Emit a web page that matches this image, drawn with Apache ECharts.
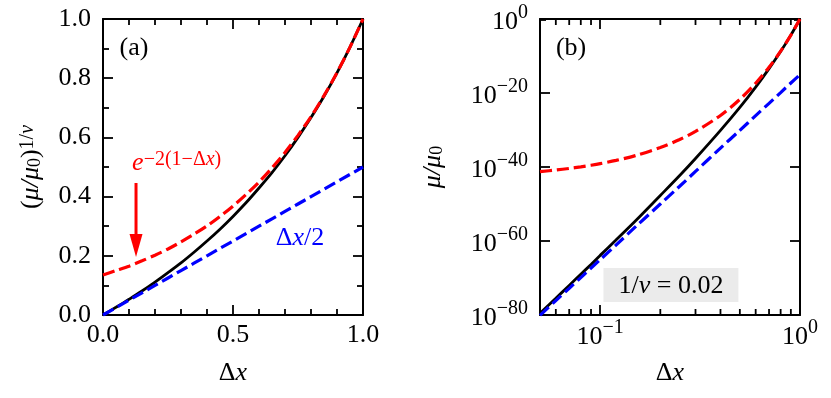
<!DOCTYPE html>
<html>
<head>
<meta charset="utf-8">
<script src="https://cdn.jsdelivr.net/npm/echarts@6/dist/echarts.min.js"></script>
<style>
  html, body { margin: 0; padding: 0; background: #fff; }
  #chart { width: 831px; height: 398px; }
</style>
</head>
<body>
<div id="chart"></div>
<script>
// panel (a), linear axes
const dxLin = [0, 0.05, 0.1, 0.15, 0.2, 0.25, 0.3, 0.35, 0.4, 0.45, 0.5, 0.55, 0.6, 0.65, 0.7, 0.75, 0.8, 0.85, 0.9, 0.95, 1];
const muLin = [0, 0.026, 0.053, 0.081, 0.111, 0.143, 0.176, 0.212, 0.25, 0.29, 0.333, 0.379, 0.429, 0.481, 0.538, 0.6, 0.667, 0.739, 0.818, 0.905, 1];
const expLin = [0.135, 0.15, 0.165, 0.183, 0.202, 0.223, 0.247, 0.273, 0.301, 0.333, 0.368, 0.407, 0.449, 0.497, 0.549, 0.607, 0.67, 0.741, 0.819, 0.905, 1];
const halfLin = [0, 0.025, 0.05, 0.075, 0.1, 0.125, 0.15, 0.175, 0.2, 0.225, 0.25, 0.275, 0.3, 0.325, 0.35, 0.375, 0.4, 0.425, 0.45, 0.475, 0.5];

// panel (b), log axes
const dxLog = [0.05, 0.06, 0.07, 0.08, 0.09, 0.1, 0.12, 0.15, 0.2, 0.25, 0.3, 0.4, 0.5, 0.6, 0.7, 0.8, 0.9, 1];
const muLog = [2.8e-80, 3.2e-76, 1.0e-72, 1.0e-69, 4.6e-67, 1.3e-64, 1.8e-60, 2.5e-55, 2.0e-48, 5.0e-43, 2.0e-38, 7.9e-31, 1.3e-24, 4.0e-19, 4.0e-14, 1.6e-9, 4.4e-5, 1];
const expLog = [5.5e-42, 1.5e-41, 4.1e-41, 1.1e-40, 3.0e-40, 8.1e-40, 6.0e-39, 1.2e-37, 1.8e-35, 2.7e-33, 4.0e-31, 8.7e-27, 1.9e-22, 4.3e-18, 9.3e-14, 2.0e-9, 4.5e-5, 1];
const halfLog = [8e-81, 8e-77, 1.6e-73, 1.3e-70, 4.6e-68, 8.9e-66, 8e-62, 6.3e-57, 1e-50, 6.3e-46, 6.3e-42, 1.3e-35, 7.9e-31, 7.9e-27, 1.6e-23, 1.3e-20, 5e-18, 8.9e-16];
const minorTicksLog = [0.06, 0.07, 0.08, 0.09, 0.2, 0.3, 0.4, 0.5, 0.6, 0.7, 0.8, 0.9];

const FONT = '"Liberation Serif", "DejaVu Serif", serif';
const FS = 26;   // main text size
const SS = 20;   // superscript size
const BS = 18;   // subscript size
const RED = '#ff0000';
const BLUE = '#0000ff';

const zip = (xs, ys) => xs.map((x, i) => [x, ys[i]]);

// rich styles; key is 'color' for echarts labels, 'fill' for graphic text
function makeRich(key, c) {
  const r = {
    n: { fontSize: FS },
    i: { fontSize: FS, fontStyle: 'italic' },
    b: { fontSize: FS, lineHeight: 32, verticalAlign: 'bottom' },
    s: { fontSize: SS, lineHeight: SS, verticalAlign: 'top' },
    si: { fontSize: SS, lineHeight: SS, verticalAlign: 'top', fontStyle: 'italic' },
    sub: { fontSize: BS, lineHeight: BS, verticalAlign: 'bottom' }
  };
  Object.keys(r).forEach(k => { r[k].fontFamily = FONT; r[k][key] = c; });
  return r;
}

const powerLabel = v => {
  const e = Math.round(Math.log10(v));
  return '{b|10}{s|' + (e < 0 ? '\u2212' : '') + Math.abs(e) + '}';
};

const axisLine = () => ({ show: true, onZero: false, lineStyle: { color: '#000', width: 2 } });
const tick = () => ({ show: true, inside: true, length: 10, lineStyle: { color: '#000', width: 1.8 } });
const minor = (n) => ({ show: true, splitNumber: n, length: 6, lineStyle: { color: '#000', width: 1.8 } });

function linAxis(grid, pos, interval, splits, labels, margin) {
  return {
    type: 'value', gridIndex: grid, position: pos, min: 0, max: 1, interval: interval,
    axisLine: axisLine(), axisTick: tick(), minorTick: minor(splits),
    splitLine: { show: false }, minorSplitLine: { show: false },
    axisLabel: { show: labels, margin: margin, fontFamily: FONT, fontSize: FS, color: '#000',
      formatter: v => v.toFixed(1) }
  };
}

function logAxis(grid, pos, min, labels, margin) {
  return {
    type: 'log', logBase: 10, gridIndex: grid, position: pos, min: min, max: 1,
    axisLine: axisLine(), axisTick: tick(),
    splitLine: { show: false }, minorSplitLine: { show: false },
    axisLabel: { show: labels, margin: margin, showMinLabel: false, formatter: powerLabel, rich: makeRich('color', '#000') }
  };
}

const xName = () => ({ name: '{n|\u0394}{i|x}', nameLocation: 'middle', nameGap: 45,
  nameTextStyle: { rich: makeRich('color', '#000') } });

const dashed = (color) => ({ color: color, width: 3.2, type: [12, 5] });
const solid = () => ({ color: '#000', width: 2.8 });

const chart = echarts.init(document.getElementById('chart'));

const option = {
  animation: false,
  backgroundColor: '#fff',
  grid: [
    { left: 103, top: 19, width: 260, height: 296, containLabel: false, outerBoundsMode: 'none' },
    { left: 540, top: 19, width: 260, height: 296, containLabel: false, outerBoundsMode: 'none' }
  ],
  xAxis: [
    Object.assign(linAxis(0, 'bottom', 0.5, 5, true, 7), xName()),
    linAxis(0, 'top', 0.5, 5, false, 7),
    Object.assign(logAxis(1, 'bottom', 0.05, true, 3), xName()),
    logAxis(1, 'top', 0.05, false, 3)
  ],
  yAxis: [
    Object.assign(linAxis(0, 'left', 0.2, 2, true, 12), {
      name: '{n|(}{i|\u03bc/\u03bc}{sub|0}{n|)}{s|1/}{si|\u03bd}', nameLocation: 'middle', nameGap: 59,
      nameTextStyle: { rich: makeRich('color', '#000') }
    }),
    linAxis(0, 'right', 0.2, 2, false, 12),
    Object.assign(logAxis(1, 'left', 1e-80, true, 12), {
      interval: 20, minorTick: minor(2),
      name: '{i|\u03bc/\u03bc}{sub|0}', nameLocation: 'middle', nameGap: 94,
      nameTextStyle: { rich: makeRich('color', '#000') }
    }),
    Object.assign(logAxis(1, 'right', 1e-80, false, 12), { interval: 20, minorTick: minor(2) })
  ],
  series: [
    { type: 'line', xAxisIndex: 0, yAxisIndex: 0, data: zip(dxLin, muLin), symbol: 'none', smooth: 0.3,
      lineStyle: solid() },
    { type: 'line', xAxisIndex: 0, yAxisIndex: 0, data: zip(dxLin, halfLin), symbol: 'none',
      lineStyle: dashed(BLUE) },
    { type: 'line', xAxisIndex: 0, yAxisIndex: 0, data: zip(dxLin, expLin), symbol: 'none', smooth: 0.3,
      lineStyle: dashed(RED) },
    { type: 'line', xAxisIndex: 2, yAxisIndex: 2, data: zip(dxLog, muLog), symbol: 'none', smooth: 0.3,
      lineStyle: solid() },
    { type: 'line', xAxisIndex: 2, yAxisIndex: 2, data: zip(dxLog, halfLog), symbol: 'none', smooth: 0.3,
      lineStyle: dashed(BLUE) },
    { type: 'line', xAxisIndex: 2, yAxisIndex: 2, data: zip(dxLog, expLog), symbol: 'none', smooth: 0.3,
      lineStyle: dashed(RED) },
    // minor ticks of the log x axis (bottom and top)
    { type: 'custom', xAxisIndex: 2, yAxisIndex: 2, silent: true,
      data: minorTicksLog.map(v => [v, 1e-80]),
      renderItem: (params, api) => {
        const b = api.coord([api.value(0), 1e-80]);
        const t = api.coord([api.value(0), 1]);
        const st = { stroke: '#000', lineWidth: 1.8 };
        return { type: 'group', children: [
          { type: 'line', shape: { x1: b[0], y1: b[1], x2: b[0], y2: b[1] - 6 }, style: st },
          { type: 'line', shape: { x1: t[0], y1: t[1], x2: t[0], y2: t[1] + 6 }, style: st }
        ] };
      }
    }
  ]
};

chart.setOption(option);

// annotations placed by data coordinates
const pa = (x, y) => chart.convertToPixel({ xAxisIndex: 0, yAxisIndex: 0 }, [x, y]);
const pb = (x, y) => chart.convertToPixel({ xAxisIndex: 2, yAxisIndex: 2 }, [x, y]);

const aPos = pa(0.119, 0.902);
const ePos = pa(0.112, 0.513);
const hPos = pa(0.758, 0.26);
const arrTop = pa(0.127, 0.446);
const arrTip = pa(0.127, 0.196);
const bPos = pb(0.0715, 1.6e-8);
const nuPos = pb(0.226, 1.26e-72);
const minPos = pb(0.05, 1e-80);   // the log axis drops its min label, so draw it here

const plain = (t, p) => ({ type: 'text', x: p[0], y: p[1],
  style: { text: t, font: FS + 'px ' + FONT, fill: '#000', align: 'center', verticalAlign: 'middle' } });

chart.setOption({
  graphic: [
    plain('(a)', aPos),
    plain('(b)', bPos),
    { type: 'text', x: minPos[0] - 12, y: minPos[1], style: {
        text: powerLabel(1e-80), rich: makeRich('fill', '#000'), align: 'right', verticalAlign: 'middle' } },
    { type: 'text', x: ePos[0], y: ePos[1], style: {
        text: '{i|e}{s|\u22122(1\u2212\u0394}{si|x}{s|)}', rich: makeRich('fill', RED), align: 'left', verticalAlign: 'middle' } },
    { type: 'text', x: hPos[0], y: hPos[1], style: {
        text: '{n|\u0394}{i|x}{n|/2}', rich: makeRich('fill', BLUE), align: 'center', verticalAlign: 'middle' } },
    { type: 'line', shape: { x1: arrTop[0], y1: arrTop[1], x2: arrTip[0], y2: arrTip[1] - 20 },
      style: { stroke: RED, lineWidth: 3 } },
    { type: 'polygon', shape: { points: [[arrTip[0] - 6.5, arrTip[1] - 23], [arrTip[0] + 6.5, arrTip[1] - 23], [arrTip[0], arrTip[1]]] },
      style: { fill: RED } },
    { type: 'text', x: nuPos[0], y: nuPos[1], style: {
        text: '{n|1/}{i|\u03bd}{n| = 0.02}', rich: makeRich('fill', '#000'), align: 'center', verticalAlign: 'middle',
        backgroundColor: '#ebebeb', padding: [5, 15, 3, 15] } }
  ]
});
</script>
</body>
</html>
